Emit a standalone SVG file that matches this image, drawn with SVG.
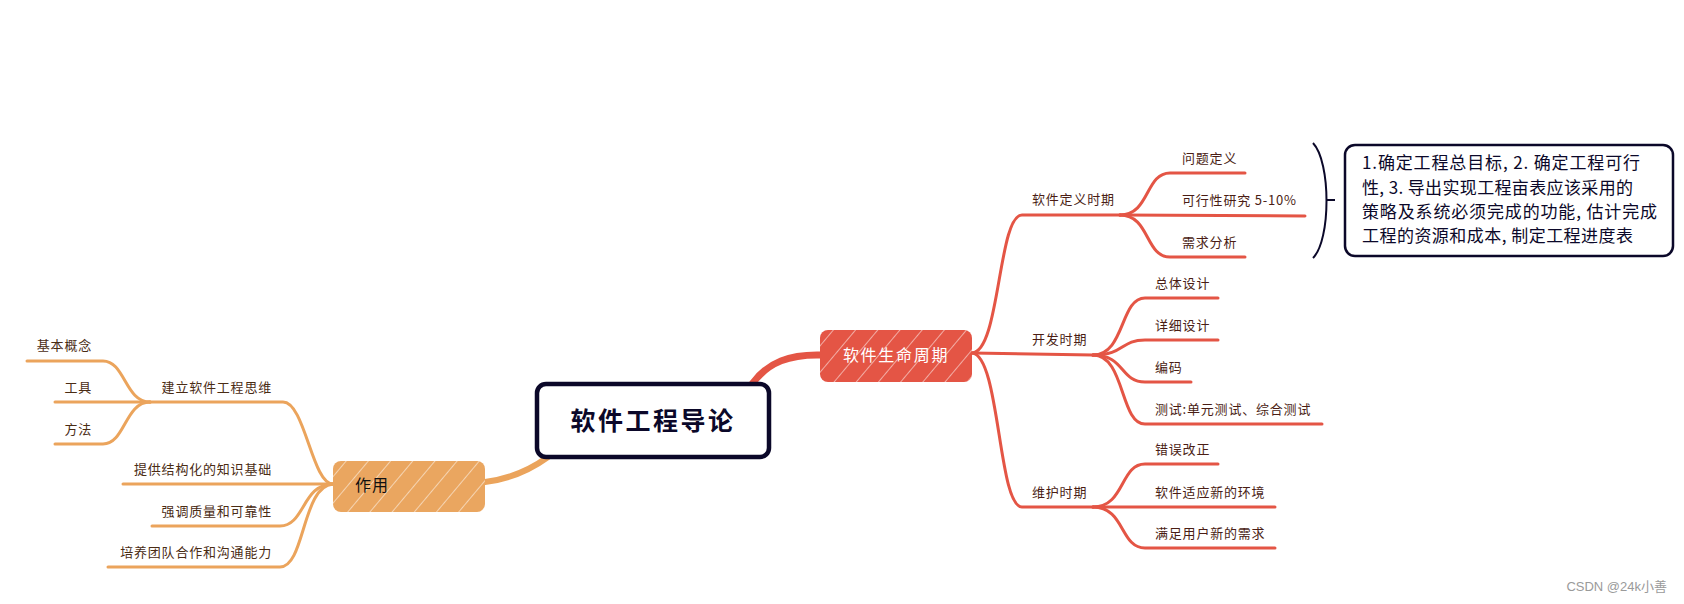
<svg xmlns="http://www.w3.org/2000/svg" width="1684" height="604" viewBox="0 0 1684 604">
<defs>
<style>
.t{font-family:"Noto Sans CJK SC","Noto Sans",sans-serif;font-size:13px;letter-spacing:0.8px}
.tr{fill:#4a1d14}
.to{fill:#4a2c14;text-anchor:end}
.lr{fill:none;stroke:#E45545;stroke-width:3;stroke-linecap:round}
.lo{fill:none;stroke:#EBA45C;stroke-width:3;stroke-linecap:round}
.box{font-family:"Noto Sans CJK SC","Noto Sans",sans-serif;font-size:17px;fill:#0B0829}
</style>
<pattern id="hatch" patternUnits="userSpaceOnUse" width="17" height="17" patternTransform="rotate(40)">
<line x1="0" y1="0" x2="0" y2="17" stroke="#fff" stroke-width="1.3" stroke-opacity="0.8"/>
</pattern>
</defs>
<rect width="1684" height="604" fill="#fff"/>
<g id="connectors">
<path d="M752,384 C768,362 790,354 822,355" fill="none" stroke="#E45545" stroke-width="7" stroke-linecap="round"/>
<path d="M485,482 C510,479 530,470 548,457" fill="none" stroke="#EBA45C" stroke-width="6" stroke-linecap="round"/>
<path class="lr" d="M972,353 C1000,352 998,215 1022,215 L1120,215"/>
<path class="lr" d="M972,353 L1093,355"/>
<path class="lr" d="M972,353 C1000,355 998,507 1022,507 L1093,507"/>
<path class="lr" d="M1120,215 C1150,215 1145,173 1170,173 L1245,173"/>
<path class="lr" d="M1120,215 L1305,216"/>
<path class="lr" d="M1120,215 C1150,215 1145,257 1170,257 L1245,257"/>
<path class="lr" d="M1093,355 C1125,355 1120,298 1145,298 L1218,298"/>
<path class="lr" d="M1093,355 C1125,355 1120,340 1145,340 L1218,340"/>
<path class="lr" d="M1093,355 C1125,355 1120,382 1145,382 L1191,382"/>
<path class="lr" d="M1093,355 C1125,355 1120,424 1145,424 L1322,424"/>
<path class="lr" d="M1093,507 C1125,507 1120,464 1145,464 L1218,464"/>
<path class="lr" d="M1093,507 L1275,507"/>
<path class="lr" d="M1093,507 C1125,507 1120,548 1145,548 L1275,548"/>
<path class="lo" d="M333,484 C312,484 305,402 283,402 L150,402"/>
<path class="lo" d="M150,402 C125,402 125,361 103,361 L27,361"/>
<path class="lo" d="M150,402 L55,402"/>
<path class="lo" d="M150,402 C125,402 125,444 103,444 L55,444"/>
<path class="lo" d="M333,484 L123,484"/>
<path class="lo" d="M333,484 C302,484 305,526 280,526 L152,526"/>
<path class="lo" d="M333,484 C302,486 305,567 280,567 L108,567"/>
<path d="M1313,143 C1331,162 1331,240 1313,258" fill="none" stroke="#0B0829" stroke-width="2"/>
<path d="M1327,200 L1335,200" stroke="#0B0829" stroke-width="2"/>
</g>
<g id="root">
<rect x="537" y="384" width="232" height="73" rx="9" fill="#fff" stroke="#0B0829" stroke-width="4.5"/>
<text x="653" y="430" text-anchor="middle" font-family="'Noto Sans CJK SC',sans-serif" font-size="25" font-weight="bold" letter-spacing="2.5" fill="#0B0829">软件工程导论</text>
</g>
<g id="lifecycle">
<rect x="820" y="330" width="152" height="52" rx="8" fill="#E45545"/>
<rect x="820" y="330" width="152" height="52" rx="8" fill="url(#hatch)"/>
<text x="896" y="361" text-anchor="middle" font-family="'Noto Sans CJK SC',sans-serif" font-size="16" letter-spacing="1.7" fill="#fff">软件生命周期</text>
</g>
<g id="role">
<rect x="333" y="461" width="152" height="51" rx="8" fill="#EAA660"/>
<rect x="333" y="461" width="152" height="51" rx="8" fill="url(#hatch)"/>
<text x="355" y="491" font-family="'Noto Sans CJK SC',sans-serif" font-size="16" letter-spacing="1" fill="#111">作用</text>
</g>
<g id="def"><text class="t tr" x="1032" y="204">软件定义时期</text></g>
<g id="def1"><text class="t tr" x="1182" y="163">问题定义</text></g>
<g id="def2"><text class="t tr" x="1182" y="205">可行性研究 5-10%</text></g>
<g id="def3"><text class="t tr" x="1182" y="247">需求分析</text></g>
<g id="note">
<rect x="1345" y="145" width="328" height="111" rx="10" fill="#fff" stroke="#0B0829" stroke-width="2.5"/>
<text class="box" x="1362" y="169" textLength="278" lengthAdjust="spacing">1.确定工程总目标, 2. 确定工程可行</text>
<text class="box" x="1362" y="194" textLength="271" lengthAdjust="spacing">性, 3. 导出实现工程亩表应该采用的</text>
<text class="box" x="1362" y="218" textLength="295" lengthAdjust="spacing">策略及系统必须完成的功能, 估计完成</text>
<text class="box" x="1362" y="242" textLength="271" lengthAdjust="spacing">工程的资源和成本, 制定工程进度表</text>
</g>
<g id="dev"><text class="t tr" x="1032" y="344">开发时期</text></g>
<g id="dev1"><text class="t tr" x="1155" y="288">总体设计</text></g>
<g id="dev2"><text class="t tr" x="1155" y="330">详细设计</text></g>
<g id="dev3"><text class="t tr" x="1155" y="372">编码</text></g>
<g id="dev4"><text class="t tr" x="1155" y="414">测试:单元测试、综合测试</text></g>
<g id="maint"><text class="t tr" x="1032" y="497">维护时期</text></g>
<g id="maint1"><text class="t tr" x="1155" y="454">错误改正</text></g>
<g id="maint2"><text class="t tr" x="1155" y="497">软件适应新的环境</text></g>
<g id="maint3"><text class="t tr" x="1155" y="538">满足用户新的需求</text></g>
<g id="think"><text class="t to" x="272" y="392">建立软件工程思维</text></g>
<g id="think1"><text class="t to" x="92" y="350">基本概念</text></g>
<g id="think2"><text class="t to" x="92" y="392">工具</text></g>
<g id="think3"><text class="t to" x="92" y="434">方法</text></g>
<g id="r2"><text class="t to" x="272" y="474">提供结构化的知识基础</text></g>
<g id="r3"><text class="t to" x="272" y="516">强调质量和可靠性</text></g>
<g id="r4"><text class="t to" x="272" y="557">培养团队合作和沟通能力</text></g>
<text x="1667" y="591" text-anchor="end" font-family="'Liberation Sans','Noto Sans CJK SC',sans-serif" font-size="13" fill="#9a9a9a">CSDN @24k小善</text>
</svg>
